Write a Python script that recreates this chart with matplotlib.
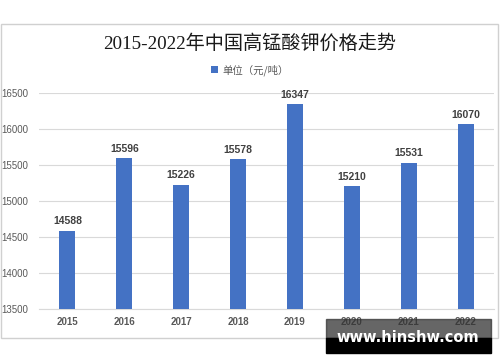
import matplotlib
matplotlib.use("Agg")
import matplotlib.pyplot as plt
from matplotlib.patches import Rectangle

plt.rcParams['font.family'] = ['Noto Sans CJK SC', 'DejaVu Sans']

years = ['2015', '2016', '2017', '2018', '2019', '2020', '2021', '2022']
prices = [14588, 15596, 15226, 15578, 16347, 15210, 15531, 16070]
yticks = [13500, 14000, 14500, 15000, 15500, 16000, 16500]

blue = '#4472C4'
grey = '#595959'

fig = plt.figure(figsize=(5, 3.62), dpi=100)
W, H = 500, 362

# chart frame
fig.patches.append(Rectangle((1 / W, 1 - 338 / H), 497 / W, 314 / H,
                             transform=fig.transFigure, fill=False,
                             edgecolor='#d0d0d0', lw=1))

ax = fig.add_axes([39 / W, 1 - 309 / H, 455 / W, 216 / H])
x = range(len(years))
ax.bar(x, prices, width=0.28, color=blue, zorder=3, label='单位（元/吨）')
for xi, v in zip(x, prices):
    ax.text(xi, v + 60, str(v), ha='center', va='bottom', fontsize=7.5,
            fontweight='bold', color='#404040', family=['Liberation Sans', 'DejaVu Sans'])

ax.set_xlim(-0.5, len(years) - 0.5)
ax.set_ylim(13500, 16500)
ax.set_yticks(yticks)
ax.set_xticks(list(x))
ax.set_xticklabels(years)
ax.grid(axis='y', color='#d9d9d9', lw=0.8, zorder=0)
for s in ['top', 'right', 'left']:
    ax.spines[s].set_visible(False)
ax.spines['bottom'].set_color('#d9d9d9')
ax.tick_params(length=0, labelsize=7, colors=grey, pad=6)
ax.tick_params(axis='y', pad=8)
for lab in ax.get_xticklabels() + ax.get_yticklabels():
    lab.set_family(['Liberation Sans', 'DejaVu Sans'])
for lab in ax.get_xticklabels():
    lab.set_fontweight('bold')

fig.text(0.5, 1 - 44 / H, '2015-2022年中国高锰酸钾价格走势', ha='center', va='center',
         fontsize=13.8, color='#1a1a1a', family=['Liberation Serif', 'Noto Sans CJK SC'])

leg = fig.legend(loc='center', bbox_to_anchor=(0.5, 1 - 70 / H), frameon=False,
                 fontsize=7.5, handlelength=0.7, handleheight=0.7, handletextpad=0.4)
for t in leg.get_texts():
    t.set_color(grey)

# watermark
fig.patches.append(Rectangle((326 / W, 1 - 338 / H), 165 / W, 19 / H,
                             transform=fig.transFigure, color='#333333', alpha=0.75, zorder=5))
fig.patches.append(Rectangle((326 / W, 1 - 353 / H), 165 / W, 15 / H,
                             transform=fig.transFigure, color='black', zorder=5))
fig.text(408 / W, 1 - 338 / H, 'www.hinshw.com', ha='center', va='center', fontsize=10.5,
         fontweight='bold', color='white', zorder=6, family=['DejaVu Sans'])

fig.savefig('out.png', dpi=100, facecolor='white')
